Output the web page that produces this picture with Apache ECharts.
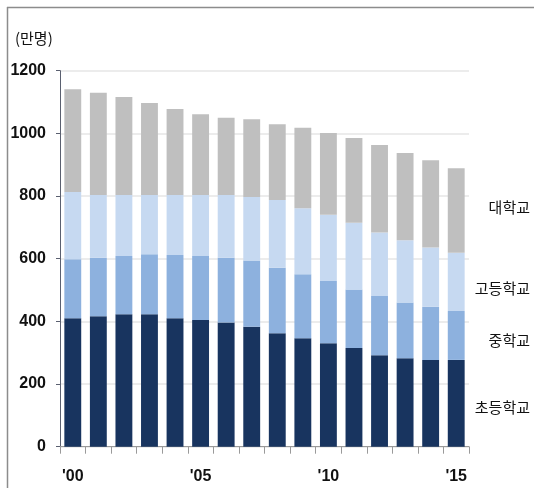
<!DOCTYPE html>
<html>
<head>
<meta charset="utf-8">
<script src="https://cdn.jsdelivr.net/npm/echarts@6/dist/echarts.min.js"></script>
<style>
  html, body { margin: 0; padding: 0; background: #ffffff; }
  #chart { width: 534px; height: 488px; }
</style>
</head>
<body>
<div id="chart"></div>
<script>
// Student enrolment by school level, 2000–2015 (unit: 10,000 persons)
const years = ['2000','2001','2002','2003','2004','2005','2006','2007',
               '2008','2009','2010','2011','2012','2013','2014','2015'];
const yearLabels = { '2000': "'00", '2005': "'05", '2010': "'10", '2015': "'15" };

const elementary = [410, 416, 423, 423, 410, 404, 396, 383, 362, 346, 330, 315, 292, 282, 277, 277];
const middle     = [188, 187, 186, 191, 202, 205, 207, 211, 209, 204, 199, 187, 189, 178, 170, 156];
const high       = [215, 200, 194, 189, 191, 194, 200, 203, 216, 211, 211, 213, 203, 199, 189, 186];
const university = [328, 327, 313, 294, 275, 258, 247, 248, 242, 257, 261, 270, 279, 278, 278, 270];

const seriesNames = ['초등학교', '중학교', '고등학교', '대학교'];
const seriesColors = ['#18345f', '#8db1de', '#c6d9f1', '#bfbfbf'];
const seriesValues = [elementary, middle, high, university];

const yTicks = { min: 0, max: 1200, interval: 200 };

const chart = echarts.init(document.getElementById('chart'), null, { renderer: 'canvas' });

const labelFont = '"Noto Sans CJK KR", "Noto Sans", sans-serif';
const numFont = '"Liberation Sans Narrow", "Liberation Sans", Arial, sans-serif';

chart.setOption({
  animation: false,
  backgroundColor: '#ffffff',
  grid: { left: 60, right: 65, top: 70.7, bottom: 41.3, containLabel: false },
  xAxis: {
    type: 'category',
    data: years,
    boundaryGap: true,
    axisLine: { show: true, lineStyle: { color: '#9a9a9a', width: 1 } },
    axisTick: { show: true, length: 7, alignWithLabel: false, lineStyle: { color: '#9a9a9a' } },
    axisLabel: {
      interval: 0,
      margin: 22,
      color: '#111111',
      fontFamily: numFont,
      fontWeight: 'bold',
      fontSize: 16,
      formatter: v => yearLabels[v] || ''
    },
    splitLine: { show: false }
  },
  yAxis: {
    type: 'value',
    min: yTicks.min,
    max: yTicks.max,
    interval: yTicks.interval,
    axisLine: { show: true, lineStyle: { color: '#5a6070', width: 1 } },
    axisTick: { show: true, length: 4, lineStyle: { color: '#5a6070' } },
    axisLabel: {
      margin: 14,
      color: '#111111',
      fontFamily: numFont,
      fontWeight: 'bold',
      fontSize: 16,
      formatter: v => String(v)
    },
    splitLine: { show: true, lineStyle: { color: '#e6e6e6', width: 1.5 } }
  },
  series: seriesNames.map((name, i) => ({
    name,
    type: 'bar',
    stack: 'total',
    data: seriesValues[i],
    barWidth: '66%',
    itemStyle: { color: seriesColors[i] },
    emphasis: { disabled: true }
  })),
  graphic: [
    // frame lines
    { type: 'line', shape: { x1: 7, y1: 7.5, x2: 534, y2: 7.5 }, style: { stroke: '#8c8c8c', lineWidth: 1.5 } },
    { type: 'line', shape: { x1: 7.5, y1: 7, x2: 7.5, y2: 488 }, style: { stroke: '#8c8c8c', lineWidth: 1.5 } },
    // unit
    { type: 'text', left: 15, top: 31,
      style: { text: '(만명)', fill: '#111111', font: '15px ' + labelFont } },
    // series names on the right
    { type: 'text', right: 4, top: 200,
      style: { text: '대학교', fill: '#111111', font: '15px ' + labelFont, textAlign: 'right' } },
    { type: 'text', right: 4, top: 281,
      style: { text: '고등학교', fill: '#111111', font: '15px ' + labelFont, textAlign: 'right' } },
    { type: 'text', right: 4, top: 333,
      style: { text: '중학교', fill: '#111111', font: '15px ' + labelFont, textAlign: 'right' } },
    { type: 'text', right: 4, top: 400,
      style: { text: '초등학교', fill: '#111111', font: '15px ' + labelFont, textAlign: 'right' } }
  ]
});
</script>
</body>
</html>
